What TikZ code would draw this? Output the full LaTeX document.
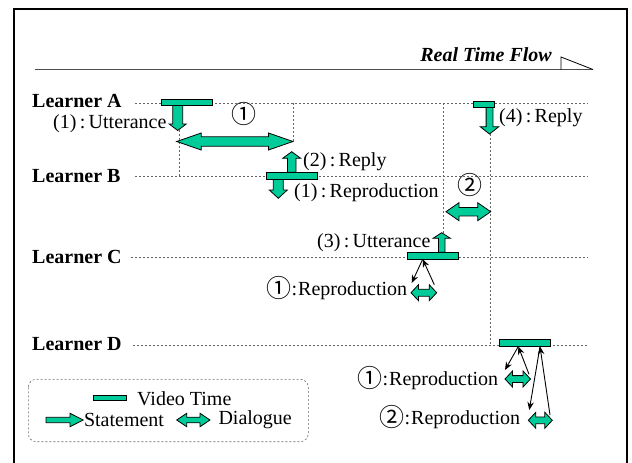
\documentclass[tikz,border=0pt]{standalone}
\usepackage{fontspec}
\setmainfont{Liberation Serif}
\newfontfamily\circfont{Noto Sans CJK JP}
\usetikzlibrary{arrows.meta}
\definecolor{vgreen}{RGB}{0,204,153}
\newcommand{\myvarrow}[6]{% x, base y, head-base y, tip y, shaft half, head half
  \filldraw[blockarrow] ({#1-#5},#2) -- ({#1-#5},#3) -- ({#1-#6},#3) -- (#1,#4) -- ({#1+#6},#3) -- ({#1+#5},#3) -- ({#1+#5},#2) -- cycle;}
\newcommand{\myhdarrow}[6]{% x1, x2, y, head len, shaft half, head half
  \filldraw[blockarrow] (#1,#3) -- ({#1+#4},{#3-#6}) -- ({#1+#4},{#3-#5}) -- ({#2-#4},{#3-#5}) -- ({#2-#4},{#3-#6}) -- (#2,#3) -- ({#2-#4},{#3+#6}) -- ({#2-#4},{#3+#5}) -- ({#1+#4},{#3+#5}) -- ({#1+#4},{#3+#6}) -- cycle;}
\newcommand{\cnum}[1]{\smash{\raisebox{-2pt}{\fontsize{25}{25}\selectfont\circfont #1}}}
\tikzset{
  blockarrow/.style={fill=vgreen, draw=black, line width=0.8pt, line join=miter},
  vbar/.style={rectangle, fill=vgreen, draw=black, line width=0.8pt, inner sep=0pt},
  timeline/.style={draw=black!60, line width=0.6pt, dash pattern=on 2pt off 2pt},
  learner/.style={font=\fontsize{20}{24}\selectfont\bfseries, anchor=base west, inner sep=0pt},
  lbl/.style={font=\fontsize{20}{24}\selectfont, anchor=west, inner sep=0pt},
  num/.style={font=\fontsize{20}{24}\selectfont, inner sep=0pt},
  thin/.style={draw=black, line width=0.9pt, -{Stealth[length=8pt,width=6.5pt]}},
}
\begin{document}
\begin{tikzpicture}[x=1pt, y=-1pt]
\useasboundingbox (0,0) rectangle (632,463);
% frame
\draw[line width=2pt] (14,463) -- (14,9) -- (627,9) -- (627,463);
% real time flow
\draw[black!70, line width=1.2pt] (35,69.5) -- (593,69.5);
\draw[black, line width=0.8pt] (561,69.5) -- (561,57) -- (593,69.5);
\node[font=\fontsize{20}{24}\selectfont\bfseries\itshape, anchor=base east, inner sep=0pt] (rtf) at (552,61) {Real Time Flow};
% learners
\node[learner] (LA) at (32,107) {Learner A};
\node[learner] (LB) at (32,182) {Learner B};
\node[learner] (LC) at (32,263) {Learner C};
\node[learner] (LD) at (32,350) {Learner D};
% time lines
\coordinate (a0) at (135,103); \coordinate (a1) at (588,103);
\coordinate (b0) at (135,176); \coordinate (b1) at (588,176);
\coordinate (c0) at (131,257); \coordinate (c1) at (588,257);
\coordinate (d0) at (133,345); \coordinate (d1) at (588,345);
\draw[timeline] (a0) -- (a1);
\draw[timeline] (b0) -- (b1);
\draw[timeline] (c0) -- (c1);
\draw[timeline] (d0) -- (d1);
% vertical guides
\coordinate (v1t) at (179,130); \coordinate (v1b) at (179,176);
\coordinate (v2t) at (293,103); \coordinate (v2b) at (293,141.5);
\coordinate (v3t) at (443.5,103); \coordinate (v3b) at (443.5,233);
\coordinate (v4t) at (490,134); \coordinate (v4b) at (490,345);
\draw[timeline] (v1t) -- (v1b);
\draw[timeline] (v2t) -- (v2b);
\draw[timeline] (v3t) -- (v3b);
\draw[timeline] (v4t) -- (v4b);
% block arrows
\myvarrow{177.7}{105}{124}{130.5}{5}{8.5}
\myvarrow{291.7}{172.3}{158.3}{151.7}{4.3}{9}
\myvarrow{278.3}{179}{190}{198.3}{5}{9}
\myvarrow{489.5}{107}{126.7}{134}{3.4}{9.3}
\myvarrow{441.7}{252.3}{238.3}{232.7}{3.3}{8.7}
\myhdarrow{176.7}{293}{141.5}{24.5}{4.7}{8.5}
\myhdarrow{446}{490.7}{211.7}{13}{4.2}{9}
\myhdarrow{411}{436.7}{292.7}{7.5}{3.5}{8}
\myhdarrow{505}{530.5}{379}{7.5}{3.4}{8}
\myhdarrow{528.3}{552.3}{420.3}{7.5}{3.4}{8}
% video time bars
\node[vbar, minimum width=51pt, minimum height=6.5pt] (barA) at (186.5,102.2) {};
\node[vbar, minimum width=51pt, minimum height=7pt] (barB) at (291.5,175.8) {};
\node[vbar, minimum width=20.7pt, minimum height=6.5pt] (barA2) at (483.7,104.2) {};
\node[vbar, minimum width=51.3pt, minimum height=6.7pt] (barC) at (432.7,255.7) {};
\node[vbar, minimum width=51.4pt, minimum height=7.3pt] (barD) at (525,342.7) {};
% thin reproduction arrows
\coordinate (cT) at (422.7,259.2); \coordinate (cL) at (411.7,283); \coordinate (cR) at (434.3,284.7);
\draw[thin] (cT) -- (cL);
\draw[thin] (cR) -- (cT);
\coordinate (d1T) at (518.3,346.5); \coordinate (d1L) at (505,370); \coordinate (d1R) at (529,374.3);
\draw[thin] (d1T) -- (d1L);
\draw[thin] (d1R) -- (d1T);
\coordinate (d2T) at (540,346.5); \coordinate (d2L) at (529.3,410); \coordinate (d2R) at (550,415);
\draw[thin] (d2T) -- (d2L);
\draw[thin] (d2R) -- (d2T);
% labels
\node[lbl] (t1) at (53,123.3) {(1)\,:\,Utterance};
\node[num] (n1) at (244,121) {\cnum{①}};
\node[lbl] (t2) at (303,161.7) {(2)\,:\,Reply};
\node[lbl] (t3) at (294,192.3) {(1)\,:\,Reproduction};
\node[lbl] (t4) at (499,117.3) {(4)\,:\,Reply};
\node[num] (n2) at (470,192.3) {\cnum{②}};
\node[lbl] (t5) at (317,242.7) {(3)\,:\,Utterance};
\node[lbl] (t6) at (266,291) {\cnum{①}\kern0.5pt:\kern1pt Reproduction};
\node[lbl] (t7) at (357,380.7) {\cnum{①}\kern0.5pt:\kern1pt Reproduction};
\node[lbl] (t8) at (379,420) {\cnum{②}\kern0.5pt:\kern1pt Reproduction};
% legend
\draw[timeline, rounded corners=8pt] (28.3,379.3) rectangle (308.3,441.7);
\node[vbar, minimum width=32.7pt, minimum height=5.7pt] (legbar) at (109.7,397.8) {};
\node[lbl] (lv) at (137,398.3) {Video Time};
\filldraw[blockarrow] (46,417.3) -- (70,417.3) -- (70,413.3) -- (83.3,420) -- (70,426.7) -- (70,422.7) -- (46,422.7) -- cycle;
\node[lbl] (ls) at (83.8,420) {Statement};
\myhdarrow{176.7}{210}{420}{10}{2.8}{6.7}
\node[lbl] (ld) at (218.3,420) {Dialogue};
\end{tikzpicture}
\end{document}
